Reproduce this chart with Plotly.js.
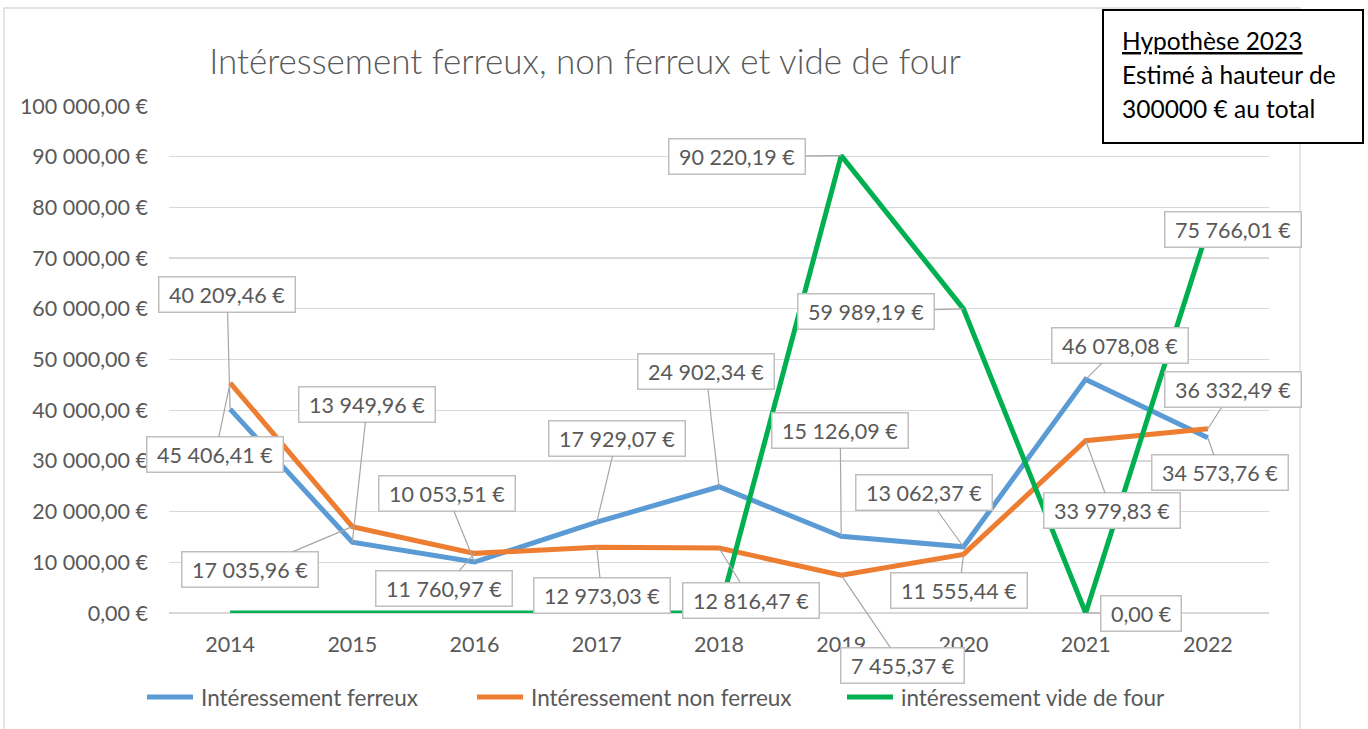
<!DOCTYPE html>
<html>
<head>
<meta charset="utf-8">
<script src="https://cdn.plot.ly/plotly-3.0.1.min.js"></script>
<style>
  html, body { margin: 0; padding: 0; background: #ffffff; }
  #chart { width: 1368px; height: 729px; }
</style>
</head>
<body>
<div id="chart"></div>
<script>
// ---- Data ----
const years = ['2014', '2015', '2016', '2017', '2018', '2019', '2020', '2021', '2022'];
const ferreux = [40209.46, 13949.96, 10053.51, 17929.07, 24902.34, 15126.09, 13062.37, 46078.08, 34573.76];
const nonFerreux = [45406.41, 17035.96, 11760.97, 12973.03, 12816.47, 7455.37, 11555.44, 33979.83, 36332.49];
const videFour = [0, 0, 0, 0, 0, 90220.19, 59989.19, 0, 75766.01];
const videFourLabelled = [false, false, false, false, false, true, true, true, true];

const seriesNames = ['Intéressement ferreux', 'Intéressement non ferreux', 'intéressement vide de four'];
const chartTitle = 'Intéressement ferreux, non ferreux et vide de four';
const noteLines = ['Hypothèse 2023', 'Estimé à hauteur de', '300000 € au total'];

// ---- Styles / label offsets (pixels, text-box centre relative to point) ----
const colors = ['#5B9BD5', '#ED7D31', '#00B050'];
const offFerreux = [[-3, -115], [15, -138], [-28, -69], [20, -84], [-13, -115], [-1, -106], [-39, -54], [34, -34], [12, 35]];
const offNonFerreux = [[-15, 72], [-102, 43], [-31, 35], [5, 48], [32, 52], [61, 90], [-4, 36], [26, 70], [25, -39]];
const offVide = [null, null, null, null, null, [-104, 1], [-97, 3], [55, 0], [25, 1]];
const legendX = [145, 475, 845];   // legend entry start (px)
const legendY = 697;

const FONT = 'Lato, "Open Sans", sans-serif';
const TXT = '#595959';

function fmt(v) {
  const parts = v.toFixed(2).split('.');
  return parts[0].replace(/\B(?=(\d{3})+(?!\d))/g, ' ') + ',' + parts[1] + ' €';
}

const xpos = years.map((_, i) => i);

// plot-area geometry (pixels)
const L = 169, R = 99, T = 106, B = 116, W = 1368, H = 729;
const pw = W - L - R, ph = H - T - B;
const px = x => (x - L) / pw;
const py = y => (H - B - y) / ph;

const LW = 5;
const traces = [
  { x: xpos, y: ferreux, name: seriesNames[0], type: 'scatter', mode: 'lines', line: { color: colors[0], width: LW } },
  { x: xpos, y: nonFerreux, name: seriesNames[1], type: 'scatter', mode: 'lines', line: { color: colors[1], width: LW } },
  { x: xpos, y: videFour, name: seriesNames[2], type: 'scatter', mode: 'lines', line: { color: colors[2], width: LW } }
];

function labelAnn(x, y, off) {
  return {
    x: x, y: y, xref: 'x', yref: 'y',
    text: '\u00a0' + fmt(y) + '\u00a0',
    showarrow: true, arrowhead: 0, arrowwidth: 1.2, arrowcolor: '#a6a6a6', standoff: 0,
    ax: off[0], ay: off[1],
    bgcolor: '#ffffff', bordercolor: '#bfbfbf', borderwidth: 1.5, borderpad: 4,
    font: { family: FONT, size: 21.5, color: TXT }
  };
}

const annotations = [];
xpos.forEach((xi, i) => annotations.push(labelAnn(xi, ferreux[i], offFerreux[i])));
xpos.forEach((xi, i) => annotations.push(labelAnn(xi, nonFerreux[i], offNonFerreux[i])));
xpos.forEach((xi, i) => { if (videFourLabelled[i]) annotations.push(labelAnn(xi, videFour[i], offVide[i])); });

// note box text
const noteY = [40, 75, 108];
noteLines.forEach((t, i) => {
  annotations.push({
    xref: 'paper', yref: 'paper', x: px(1120), y: py(noteY[i]), xanchor: 'left', yanchor: 'middle',
    text: i === 0 ? '<u>' + t + '</u>' : t, showarrow: false,
    font: { family: FONT, size: 24.5, color: '#000000' }
  });
});

const shapes = [
  { type: 'rect', xref: 'paper', yref: 'paper', x0: px(4), x1: px(1300), y0: py(8), y1: py(760),
    line: { color: '#d9d9d9', width: 1.3 }, fillcolor: 'rgba(0,0,0,0)', layer: 'below' },
  { type: 'rect', xref: 'paper', yref: 'paper', x0: px(1103), x1: px(1363), y0: py(10), y1: py(143),
    line: { color: '#000000', width: 2 }, fillcolor: '#ffffff', layer: 'above' }
];

// manual legend
seriesNames.forEach((name, i) => {
  shapes.push({ type: 'line', xref: 'paper', yref: 'paper', x0: px(legendX[i] + 2), x1: px(legendX[i] + 48),
    y0: py(legendY), y1: py(legendY), line: { color: colors[i], width: LW } });
  annotations.push({ xref: 'paper', yref: 'paper', x: px(legendX[i] + 54), y: py(legendY),
    xanchor: 'left', yanchor: 'middle', text: name, showarrow: false,
    font: { family: FONT, size: 22.5, color: TXT } });
});

const layout = {
  width: W, height: H,
  margin: { l: L, r: R, t: T, b: B },
  paper_bgcolor: '#ffffff', plot_bgcolor: '#ffffff',
  separators: ', ',
  font: { family: FONT, color: TXT },
  title: {
    text: chartTitle, xref: 'container', yref: 'container',
    x: 585 / W, xanchor: 'center', y: 1 - 62 / H, yanchor: 'middle',
    font: { family: FONT, size: 35, color: TXT, weight: 300 }
  },
  xaxis: {
    type: 'linear', range: [-0.5, 8.5], tickvals: xpos, ticktext: years,
    showgrid: false, zeroline: false, showline: false,
    ticks: '', ticklabelstandoff: 16, tickfont: { family: FONT, size: 21.5, color: TXT }
  },
  yaxis: {
    range: [0, 100000], dtick: 10000, tickformat: ',.2f', ticksuffix: ' €',
    showgrid: true, gridcolor: '#d9d9d9', gridwidth: 1.3,
    zeroline: true, zerolinecolor: '#d9d9d9', zerolinewidth: 1.3, showline: false,
    ticks: '', ticklabelstandoff: 20, tickfont: { family: FONT, size: 21.5, color: TXT }
  },
  showlegend: false,
  annotations: annotations,
  shapes: shapes
};

Plotly.newPlot('chart', traces, layout, { displayModeBar: false, staticPlot: true });
</script>
</body>
</html>
